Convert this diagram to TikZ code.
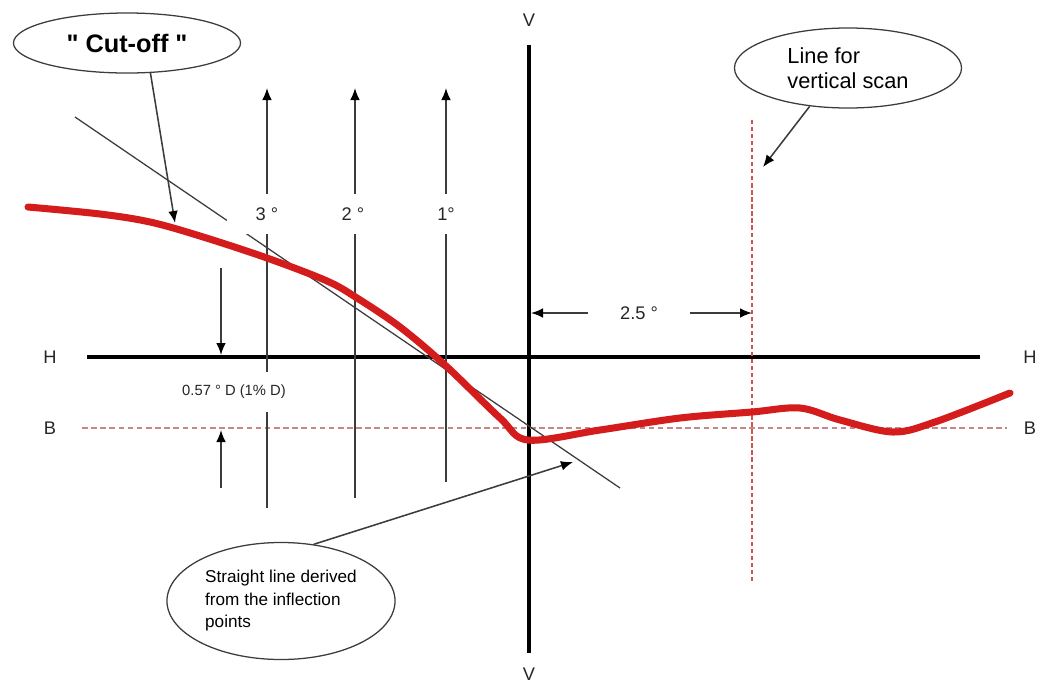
\documentclass[tikz,border=0pt]{standalone}
\usepackage{fontspec}
\setmainfont{Liberation Sans}[Ligatures=TeXOff]
\usepackage{tikz}
\usetikzlibrary{shapes.geometric, arrows.meta, positioning}
\definecolor{beamRed}{HTML}{D41C1C}
\definecolor{lineGray}{HTML}{3C3C3C}
\definecolor{cutPink}{HTML}{C48888}
\definecolor{scanRed}{HTML}{D6504C}
\colorlet{inkdark}{black!85}

\begin{document}
\begin{tikzpicture}[x=0.025cm, y=-0.025cm,
  bubble/.style={ellipse, draw=lineGray, line width=0.9pt, fill=white, inner sep=0pt, align=left},
  axis/.style={line width=3pt, black},
  thin/.style={line width=1.1pt, lineGray},
  tip/.style={-{Latex[length=0.3cm, width=0.24cm, black]}},
  lbl/.style={font=\fontsize{13}{15}\selectfont, text=inkdark},
  gap/.style={lbl, fill=white, minimum height=1cm}
]
  \useasboundingbox (0,0) rectangle (1040,685);

  % main axes
  \coordinate (hstart) at (87,357);
  \coordinate (hend) at (980,357);
  \coordinate (vtop) at (529,45);
  \coordinate (vbot) at (529,653);
  \node[lbl] (hl) at (50,357) {H};
  \node[lbl] (hr) at (1030,357) {H};
  \node[lbl] (vt) at (529,20) {V};
  \node[lbl] (vb) at (529,674) {V};
  \draw[axis] (hstart) -- (hend);
  \draw[axis] (vtop) -- (vbot);

  % B line and scan line
  \coordinate (bstart) at (82,428);
  \coordinate (bend) at (1007,428);
  \node[lbl] (bl) at (50,428) {B};
  \node[lbl] (br) at (1030,428) {B};
  \draw[cutPink, line width=1pt, dash pattern=on 4pt off 2.5pt] (bstart) -- (bend);
  \coordinate (stop) at (752,120);
  \coordinate (sbot) at (752,582);
  \draw[scanRed, line width=0.8pt, dash pattern=on 3pt off 2pt] (stop) -- (sbot);

  % tangent through the inflection points
  \coordinate (ta) at (75,117);
  \coordinate (tb) at (620,488);
  \draw[thin, line width=0.9pt] (ta) -- (tb);

  % degree lines
  \coordinate (d3b) at (267,508);
  \coordinate (d3t) at (267,88);
  \coordinate (d2b) at (355,498);
  \coordinate (d2t) at (355,88);
  \coordinate (d1b) at (446,482);
  \coordinate (d1t) at (446,88);
  \draw[thin, tip] (d3b) -- (d3t);
  \draw[thin, tip] (d2b) -- (d2t);
  \draw[thin, tip] (d1b) -- (d1t);
  \node[gap, minimum width=2cm] (deg3) at (267,214) {3 °};
  \node[gap, minimum width=1.2cm] (deg2) at (353,214) {2 °};
  \node[gap, minimum width=1.2cm] (deg1) at (446,214) {1°};

  % 0.57 deg dimension
  \node[gap, font=\fontsize{10.5}{12}\selectfont] (dim) at (234,392) {0.57 ° D (1\% D)};
  \coordinate (dima) at (221,268);
  \coordinate (dimb) at (221,355);
  \coordinate (dimc) at (221,488);
  \coordinate (dimd) at (221,430);
  \draw[thin, tip] (dima) -- (dimb);
  \draw[thin, tip] (dimc) -- (dimd);

  % 2.5 deg spacing
  \node[lbl] (sweep) at (639,313) {2.5 °};
  \coordinate (swl) at (588,313);
  \coordinate (swv) at (531,313);
  \coordinate (swr) at (690,313);
  \coordinate (sws) at (752,313);
  \draw[thin, tip] (swl) -- (swv);
  \draw[thin, tip] (swr) -- (sws);

  % measured cut-off curve
  \draw[beamRed, line width=5pt, line cap=round, line join=round]
    plot[smooth, tension=0.55] coordinates {
      (28,207) (100,214) (150,222) (200,236) (267,258) (327,281) (357,298)
      (400,327) (445,365) (500,418) (528,440) (600,430) (680,418) (752,412)
      (800,408) (840,420) (893,432) (935,422) (1010,393)};

  % callouts
  \node[bubble, minimum width=5.675cm, minimum height=1.5cm, font=\fontsize{18}{20}\selectfont\bfseries] (cutoff) at (127,43) {" Cut-off "};
  \coordinate (cuttip) at (175,223);
  \draw[thin, tip] (cutoff.-52) -- (cuttip);

  \node[bubble, minimum width=5.675cm, minimum height=2cm, font=\fontsize{15.5}{18}\selectfont] (scan) at (848,68) {Line for\\vertical scan};
  \coordinate (scantip) at (763,167);
  \draw[thin, tip] (scan.-135) -- (scantip);

  \node[bubble, minimum width=5.7cm, minimum height=2.925cm, font=\fontsize{12.2}{16}\selectfont] (inflect) at (281,601) {Straight line derived\\from the inflection\\points};
  \coordinate (inftip) at (573,462);
  \draw[thin, tip] (inflect.60) -- (inftip);
\end{tikzpicture}
\end{document}
